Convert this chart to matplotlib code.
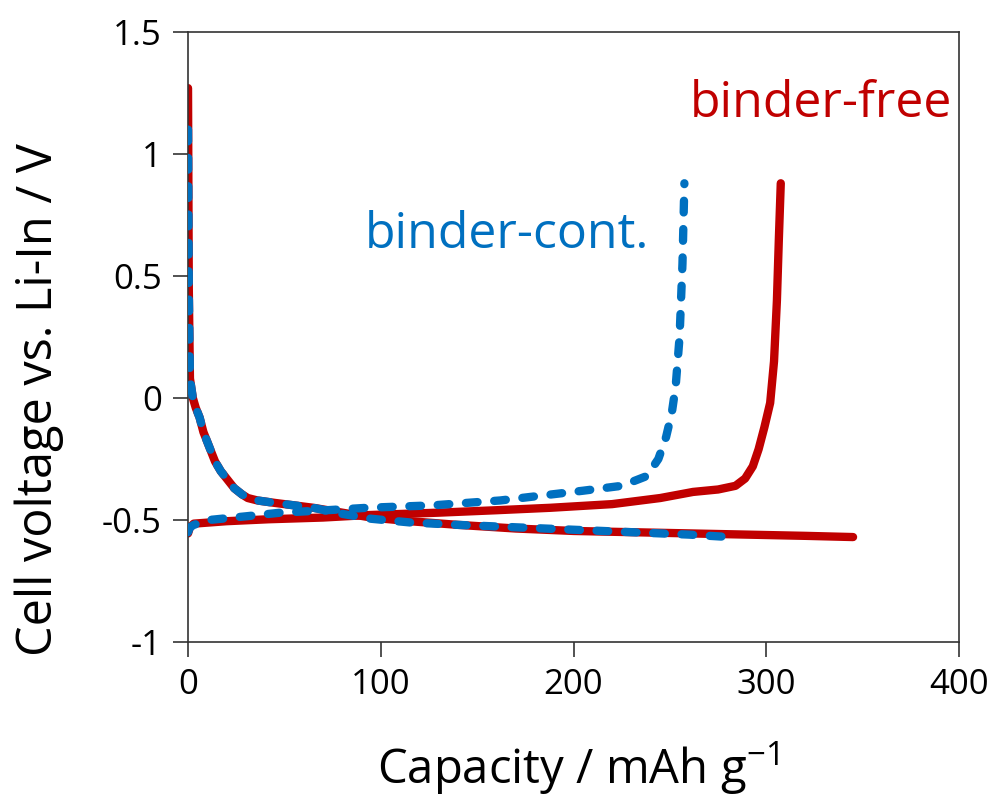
"""Charge/discharge curves: binder-free vs binder-containing electrode (vs. Li-In)."""

import matplotlib
matplotlib.use("Agg")
import matplotlib.pyplot as plt

plt.rcParams["font.family"] = ["Open Sans", "DejaVu Sans"]
plt.rcParams["mathtext.fontset"] = "custom"
plt.rcParams["mathtext.rm"] = "Open Sans"
plt.rcParams["mathtext.it"] = "Open Sans"

RED = "#C00000"
BLUE = "#0070C0"

# binder-free: discharge (lithiation) and charge
free_dis_x = [0, 0.4, 1, 2.5, 4, 6, 8, 11, 14, 17, 20, 24, 28, 31, 36, 45, 55, 65,
              80, 95, 115, 140, 170, 200, 230, 260, 290, 320, 345]
free_dis_y = [1.27, 0.45, 0.08, 0.0, -0.04, -0.08, -0.14, -0.2, -0.26, -0.3, -0.33,
              -0.37, -0.395, -0.41, -0.42, -0.43, -0.44, -0.45, -0.47, -0.49, -0.505,
              -0.52, -0.535, -0.545, -0.55, -0.555, -0.56, -0.565, -0.57]
free_chg_x = [0, 1, 3, 20, 42, 70, 93, 130, 160, 188, 220, 245, 262, 275, 284, 289,
              293, 296, 299, 302, 304, 305.5, 306.5, 307.5]
free_chg_y = [-0.555, -0.53, -0.515, -0.505, -0.497, -0.49, -0.48, -0.47, -0.46, -0.45,
              -0.435, -0.41, -0.385, -0.375, -0.36, -0.33, -0.28, -0.21, -0.12, -0.02,
              0.15, 0.4, 0.65, 0.88]

# binder-containing: discharge and charge
cont_dis_x = [0, 0.4, 1, 2.5, 4, 6, 8, 11, 14, 17, 20, 24, 28, 31, 36, 45, 55, 65,
              80, 95, 115, 140, 170, 200, 230, 260, 281]
cont_dis_y = [1.1, 0.45, 0.08, 0.0, -0.04, -0.08, -0.14, -0.2, -0.26, -0.3, -0.33,
              -0.37, -0.395, -0.41, -0.42, -0.43, -0.44, -0.45, -0.475, -0.495, -0.51,
              -0.52, -0.53, -0.54, -0.55, -0.56, -0.57]
cont_chg_x = [0, 1, 3, 11, 30, 48, 72, 93, 127, 162, 205, 225, 238, 244, 248, 251,
              253, 255, 256.5, 257.5]
cont_chg_y = [-0.55, -0.53, -0.52, -0.5, -0.485, -0.47, -0.46, -0.45, -0.44, -0.42,
              -0.38, -0.36, -0.32, -0.25, -0.16, -0.06, 0.05, 0.25, 0.55, 0.88]

x_ticks = [0, 100, 200, 300, 400]
y_ticks = [-1, -0.5, 0, 0.5, 1, 1.5]
y_tick_labels = ["-1", "-0.5", "0", "0.5", "1", "1.5"]


def main():
    fig = plt.figure(figsize=(9.98, 7.96), dpi=100)
    ax = fig.add_axes([0.1884, 0.1935, 0.7726, 0.7663])

    lw = 6
    for xs, ys in [(free_dis_x, free_dis_y), (free_chg_x, free_chg_y)]:
        ax.plot(xs, ys, color=RED, lw=lw, solid_capstyle="round",
                solid_joinstyle="round", zorder=2)
    for xs, ys in [(cont_dis_x, cont_dis_y), (cont_chg_x, cont_chg_y)]:
        ax.plot(xs, ys, color=BLUE, lw=lw, ls=(0, (1.4, 2.0)),
                dash_capstyle="round", dash_joinstyle="round", zorder=3)

    ax.text(260.4, 1.152, "binder-free", color=RED, fontsize=36,
            ha="left", va="baseline")
    ax.text(91.8, 0.615, "binder-cont.", color=BLUE, fontsize=36,
            ha="left", va="baseline")

    ax.set_xlim(0, 400)
    ax.set_ylim(-1, 1.5)
    ax.set_xticks(x_ticks)
    ax.set_yticks(y_ticks)
    ax.set_yticklabels(y_tick_labels)
    ax.tick_params(direction="out", length=11, width=1.2, labelsize=25,
                   color="#333333", pad=8, right=False, top=False)
    for s in ax.spines.values():
        s.set_color("#333333")
        s.set_linewidth(1.2)

    ax.set_xlabel("Capacity / mAh g$^{-1}$", fontsize=34, va="center")
    ax.xaxis.set_label_coords(0.505, -0.207)
    ax.set_ylabel("Cell voltage vs. Li-In / V", fontsize=35, va="center")
    ax.yaxis.set_label_coords(-0.193, 0.397)

    fig.savefig("out.png", dpi=100)


if __name__ == "__main__":
    main()
